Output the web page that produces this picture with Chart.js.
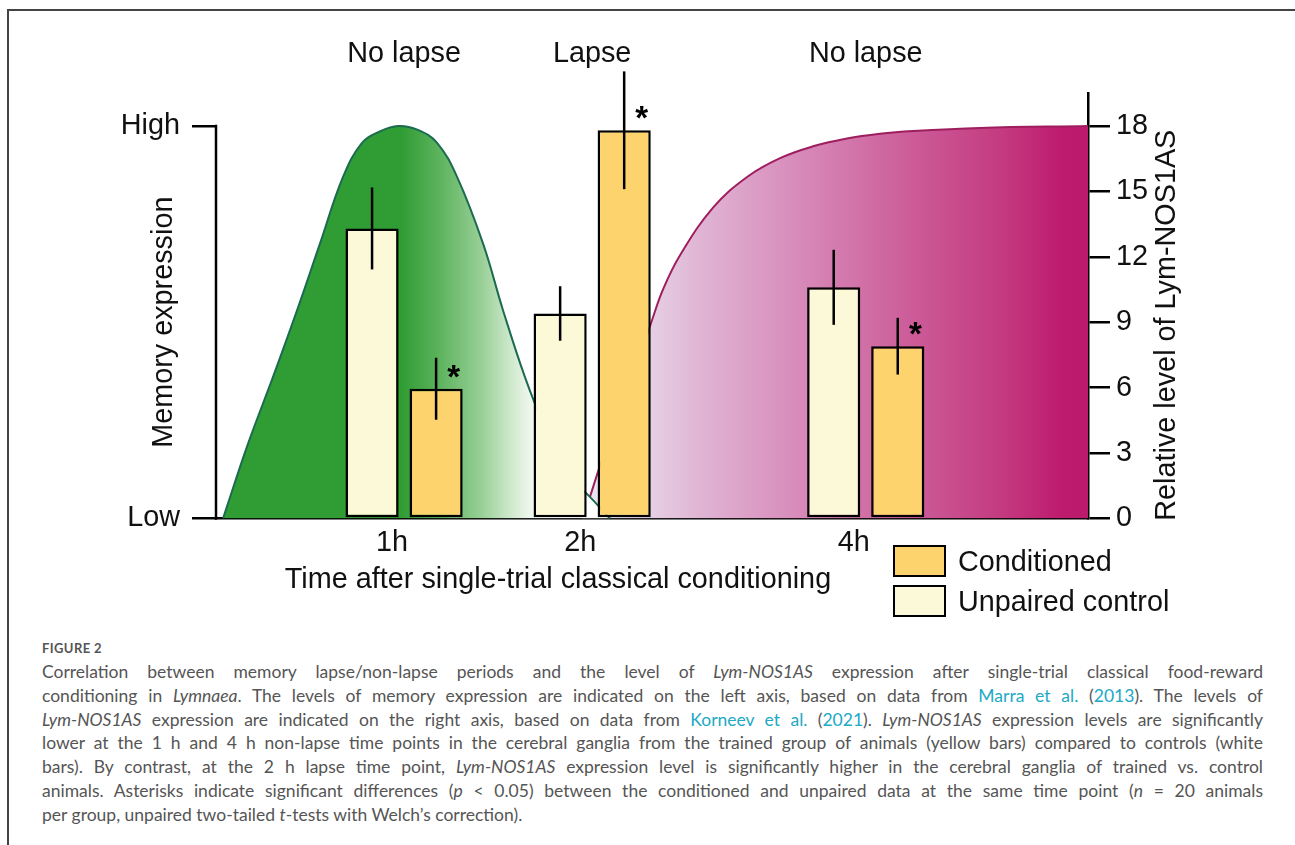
<!DOCTYPE html>
<html>
<head>
<meta charset="utf-8">
<script src="https://cdn.jsdelivr.net/npm/chart.js@4.4.1/dist/chart.umd.min.js"></script>
<style>
  html, body { margin: 0; padding: 0; background: #fff; }
  body { width: 1295px; height: 845px; position: relative; overflow: hidden; font-family: 'Liberation Sans', Arial, sans-serif; }
  .frame { position: absolute; left: 7px; top: 9px; width: 1300px; height: 850px; border-top: 2px solid #444; border-left: 2px solid #444; }
  #chartBox { position: absolute; left: 0; top: 0; width: 1295px; height: 640px; }
  #legend { position: absolute; left: 893px; top: 545px; }
  .legend-item { display: flex; align-items: center; height: 32px; margin-bottom: 8px; font-size: 28.8px; color: #111; }
  .legend-box { width: 53px; height: 32px; box-sizing: border-box; border: 2.5px solid #000; margin-right: 12px; }
  .caption { position: absolute; left: 42px; top: 640px; width: 1221px; font-family: Lato, 'Open Sans', sans-serif; color: #555; }
  .fig-no { font-size: 13px; font-weight: 700; letter-spacing: 0.4px; height: 16px; line-height: 16px; }
  .cl { font-size: 17.5px; height: 23.83px; line-height: 23.83px; text-align: justify; text-align-last: justify; }
  .cl.last { text-align-last: left; }
  .caption a { color: #21a9c5; text-decoration: none; }
</style>
</head>
<body>
<div class="frame"></div>
<div id="chartBox"><canvas id="myChart"></canvas></div>
<div id="legend"></div>
<div class="caption">
  <div class="fig-no">FIGURE 2</div>
  <div style="height:4px"></div>
  <div class="cl">Correlation between memory lapse/non-lapse periods and the level of <i>Lym-NOS1AS</i> expression after single-trial classical food-reward</div>
  <div class="cl">conditioning in <i>Lymnaea</i>. The levels of memory expression are indicated on the left axis, based on data from <a>Marra et al.</a> (<a>2013</a>). The levels of</div>
  <div class="cl"><i>Lym-NOS1AS</i> expression are indicated on the right axis, based on data from <a>Korneev et al.</a> (<a>2021</a>). <i>Lym-NOS1AS</i> expression levels are significantly</div>
  <div class="cl">lower at the 1 h and 4 h non-lapse time points in the cerebral ganglia from the trained group of animals (yellow bars) compared to controls (white</div>
  <div class="cl">bars). By contrast, at the 2 h lapse time point, <i>Lym-NOS1AS</i> expression level is significantly higher in the cerebral ganglia of trained vs. control</div>
  <div class="cl">animals. Asterisks indicate significant differences (<i>p</i> &lt; 0.05) between the conditioned and unpaired data at the same time point (<i>n</i> = 20 animals</div>
  <div class="cl last">per group, unpaired two-tailed <i>t</i>-tests with Welch’s correction).</div>
</div>

<script>
// time points (the time axis of the figure is schematic, not to scale)
const timeLabels = ['1h', '2h', '4h'];
const timeSlot = [11, 22, 38];          // place of each time point on the schematic axis (0..51)
const phaseLabels = ['No lapse', 'Lapse', 'No lapse'];

// Lym-NOS1AS relative level (right axis)
const unpairedMean = [13.3, 9.4, 10.6];
const unpairedErr = [1.88, 1.25, 1.72];
const conditionedMean = [5.95, 17.8, 7.9];
const conditionedErr = [1.42, 2.7, 1.3];
const conditionedSig = [true, true, true];
const rightTicks = [0, 3, 6, 9, 12, 15, 18];

// memory expression (left axis, 0 = Low, 1 = High)
const memoryTicks = [0, 1];
const memoryTickLabels = ['Low', 'High'];
const memoryEarlyX = [0.41, 1.87, 3.33, 4.74, 6.08, 7.43, 8.54, 9.59, 10.64, 11.81, 12.93, 14.10, 15.62, 16.79, 18.07, 19.24, 20.41, 21.87, 23.04];
const memoryEarlyY = [0, 0.19, 0.36, 0.53, 0.70, 0.87, 0.957, 0.986, 1.0, 0.99, 0.957, 0.87, 0.70, 0.53, 0.36, 0.23, 0.12, 0.055, 0];
const memoryLateX = [21.46, 21.87, 22.46, 23.63, 24.80, 25.50, 26.14, 27.13, 29.07, 31.06, 32.99, 34.92, 36.90, 38.83, 40.77, 44.68, 51.0];
const memoryLateY = [0, 0.055, 0.134, 0.277, 0.414, 0.505, 0.583, 0.670, 0.792, 0.870, 0.918, 0.948, 0.968, 0.980, 0.987, 0.995, 1.0];

const COND_COLOR = '#fcd36d';
const UNPAIRED_COLOR = '#fbf9d8';
const FONT = "'Liberation Sans', Arial, sans-serif";
const FONT_SIZE = 28.8;

Chart.defaults.font.family = FONT;
Chart.defaults.font.size = FONT_SIZE;
Chart.defaults.color = '#111';

const toPoints = (xs, ys) => xs.map((x, i) => ({ x: x, y: ys[i] }));

// horizontal gradients for the two memory curves
const greenFill = (context) => {
    const chart = context.chart;
    if (!chart.chartArea) return '#2f9c34';
    const x = chart.scales.x;
    const g = chart.ctx.createLinearGradient(x.getPixelForValue(0), 0, x.getPixelForValue(20.4), 0);
    g.addColorStop(0, '#2f9c34');
    g.addColorStop(0.53, '#2f9c34');
    g.addColorStop(0.64, '#5cb35d');
    g.addColorStop(0.76, '#98cf96');
    g.addColorStop(0.84, '#cbe7c9');
    g.addColorStop(0.90, '#eef7ed');
    g.addColorStop(1, '#ffffff');
    return g;
};
const magentaFill = (context) => {
    const chart = context.chart;
    if (!chart.chartArea) return '#d78ab9';
    const x = chart.scales.x;
    const g = chart.ctx.createLinearGradient(x.getPixelForValue(21.46), 0, x.getPixelForValue(51), 0);
    g.addColorStop(0, '#ece8f3');
    g.addColorStop(0.13, '#e6d0e5');
    g.addColorStop(0.23, '#e0b5d4');
    g.addColorStop(0.43, '#d78ab9');
    g.addColorStop(0.63, '#cd609c');
    g.addColorStop(0.83, '#c43a80');
    g.addColorStop(0.945, '#be1c6f');
    g.addColorStop(1, '#bb1b6c');
    return g;
};

// error bars, asterisks, phase labels, axis titles and the short left axis
const decorations = {
    id: 'decorations',
    afterDatasetsDraw(chart) {
        const ctx = chart.ctx;
        const area = chart.chartArea;
        const x = chart.scales.x, y = chart.scales.y, yMem = chart.scales.yMem;
        ctx.save();
        ctx.strokeStyle = '#000';
        ctx.lineWidth = 2.5;

        const groups = [[0, unpairedMean, unpairedErr], [1, conditionedMean, conditionedErr]];
        groups.forEach(([di, means, errs]) => {
            chart.getDatasetMeta(di).data.forEach((bar, i) => {
                ctx.beginPath();
                ctx.moveTo(bar.x, y.getPixelForValue(means[i] + errs[i]));
                ctx.lineTo(bar.x, y.getPixelForValue(means[i] - errs[i]));
                ctx.stroke();
            });
        });

        ctx.fillStyle = '#000';
        ctx.font = 'bold 33px ' + FONT;
        ctx.textAlign = 'center';
        ctx.textBaseline = 'alphabetic';
        chart.getDatasetMeta(1).data.forEach((bar, i) => {
            if (!conditionedSig[i]) return;
            ctx.fillText('*', bar.x + bar.width / 2 - 9, bar.y - 1);
        });

        // left axis runs only from Low to High
        ctx.beginPath();
        ctx.moveTo(area.left, yMem.getPixelForValue(0) + 1.25);
        ctx.lineTo(area.left, yMem.getPixelForValue(1) - 1.25);
        ctx.stroke();

        ctx.fillStyle = '#111';
        ctx.font = FONT_SIZE + 'px ' + FONT;
        ctx.textBaseline = 'middle';
        phaseLabels.forEach((txt, i) => {
            ctx.fillText(txt, x.getPixelForValue(timeSlot[i]), area.top - 39);
        });

        ctx.fillText('Time after single-trial classical conditioning', area.left + 342, area.bottom + 62);

        const midMem = (yMem.getPixelForValue(0) + yMem.getPixelForValue(1)) / 2;
        ctx.save();
        ctx.translate(area.left - 52, midMem);
        ctx.rotate(-Math.PI / 2);
        ctx.fillText('Memory expression', 0, 0);
        ctx.restore();

        ctx.save();
        ctx.translate(area.right + 79, midMem + 3);
        ctx.rotate(-Math.PI / 2);
        ctx.fillText('Relative level of Lym-NOS1AS', 0, 0);
        ctx.restore();

        ctx.restore();
    }
};

const myChart = () => {
    const ctx = document.getElementById('myChart').getContext('2d');
    return new Chart(ctx, {
        type: 'bar',
        data: {
            datasets: [
                {
                    label: 'Unpaired control',
                    data: toPoints(timeSlot, unpairedMean),
                    backgroundColor: UNPAIRED_COLOR,
                    borderColor: '#000',
                    borderWidth: 2.5,
                    borderSkipped: false,
                    categoryPercentage: 0.681,
                    barPercentage: 0.83,
                    yAxisID: 'y',
                    order: 0
                },
                {
                    label: 'Conditioned',
                    data: toPoints(timeSlot, conditionedMean),
                    backgroundColor: COND_COLOR,
                    borderColor: '#000',
                    borderWidth: 2.5,
                    borderSkipped: false,
                    categoryPercentage: 0.681,
                    barPercentage: 0.83,
                    yAxisID: 'y',
                    order: 0
                },
                {
                    type: 'line',
                    label: 'Memory (early)',
                    data: toPoints(memoryEarlyX, memoryEarlyY),
                    yAxisID: 'yMem',
                    borderColor: '#1c6b50',
                    borderWidth: 2,
                    backgroundColor: greenFill,
                    fill: 'origin',
                    pointRadius: 0,
                    tension: 0.4,
                    order: 1
                },
                {
                    type: 'line',
                    label: 'Memory (late)',
                    data: toPoints(memoryLateX, memoryLateY),
                    yAxisID: 'yMem',
                    borderColor: '#9e1e5e',
                    borderWidth: 2,
                    backgroundColor: magentaFill,
                    fill: 'origin',
                    pointRadius: 0,
                    tension: 0.4,
                    order: 2
                }
            ]
        },
        options: {
            responsive: true,
            maintainAspectRatio: false,
            animation: false,
            layout: { padding: { top: 93.2, left: 0, right: 0, bottom: 0 } },
            plugins: { legend: { display: false }, tooltip: { enabled: false } },
            scales: {
                x: {
                    type: 'linear',
                    min: 0,
                    max: 51,
                    offset: false,
                    z: 1,
                    grid: { display: false, drawTicks: false },
                    border: { display: true, color: '#000', width: 2.5 },
                    afterBuildTicks: (scale) => { scale.ticks = timeSlot.map(v => ({ value: v })); },
                    afterFit: (scale) => { scale.height = 121.5; },
                    ticks: {
                        padding: 7,
                        labelOffset: -12,
                        autoSkip: false,
                        maxRotation: 0,
                        callback: (value) => timeLabels[timeSlot.indexOf(value)]
                    }
                },
                yMem: {
                    type: 'linear',
                    position: 'left',
                    min: 0,
                    max: 19.5 / 18,
                    grid: { display: true, drawOnChartArea: false, drawTicks: true, tickLength: 24, color: '#000', lineWidth: 2.5 },
                    border: { display: false },
                    afterBuildTicks: (scale) => { scale.ticks = memoryTicks.map(v => ({ value: v })); },
                    afterFit: (scale) => { scale.width = 216; },
                    ticks: {
                        padding: 12,
                        callback: (value) => memoryTickLabels[memoryTicks.indexOf(value)]
                    }
                },
                y: {
                    type: 'linear',
                    position: 'right',
                    min: 0,
                    max: 19.5,
                    z: 1,
                    grid: { display: true, drawOnChartArea: false, drawTicks: true, tickLength: 22, color: '#000', lineWidth: 2.5 },
                    border: { display: true, color: '#000', width: 2.5 },
                    afterBuildTicks: (scale) => { scale.ticks = rightTicks.map(v => ({ value: v })); },
                    afterFit: (scale) => { scale.width = 207; },
                    ticks: { padding: 6 }
                }
            }
        },
        plugins: [decorations]
    });
};

const buildLegend = (chart) => {
    const box = document.getElementById('legend');
    // Conditioned first, as in the figure
    [1, 0].forEach(di => {
        const ds = chart.data.datasets[di];
        const item = document.createElement('div');
        item.className = 'legend-item';
        const sw = document.createElement('div');
        sw.className = 'legend-box';
        sw.style.background = ds.backgroundColor;
        const label = document.createElement('span');
        label.textContent = ds.label;
        item.appendChild(sw);
        item.appendChild(label);
        box.appendChild(item);
    });
};

const chart = myChart();
buildLegend(chart);
</script>
</body>
</html>
